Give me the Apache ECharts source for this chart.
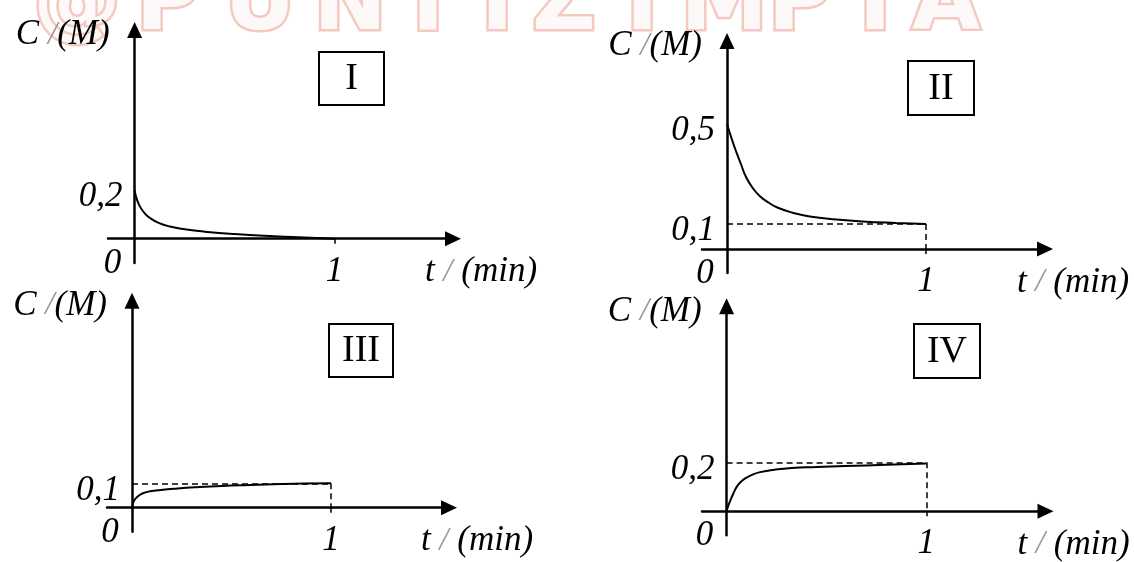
<!DOCTYPE html>
<html>
<head>
<meta charset="utf-8">
<script src="https://cdn.jsdelivr.net/npm/echarts@6/dist/echarts.min.js"></script>
<style>
html, body { margin: 0; padding: 0; background: #fff; }
#chart { width: 1134px; height: 562px; }
</style>
</head>
<body>
<div id="chart"></div>
<script>
var tI = [0, 0.01, 0.027, 0.05, 0.077, 0.12, 0.177, 0.25, 0.35, 0.5, 0.7, 0.85, 1];
var cI = [0.2, 0.165, 0.132, 0.105, 0.085, 0.065, 0.05, 0.039, 0.029, 0.019, 0.01, 0.005, 0];

var tII = [0, 0.02, 0.043, 0.07, 0.095, 0.13, 0.167, 0.21, 0.256, 0.33, 0.416, 0.55, 0.682, 0.85, 1];
var cII = [0.5, 0.45, 0.396, 0.34, 0.289, 0.243, 0.21, 0.185, 0.165, 0.145, 0.13, 0.118, 0.11, 0.104, 0.1];

var tIII = [0, 0.008, 0.019, 0.035, 0.055, 0.09, 0.145, 0.23, 0.325, 0.45, 0.594, 0.75, 0.863, 1];
var cIII = [0, 0.025, 0.038, 0.05, 0.059, 0.067, 0.073, 0.079, 0.084, 0.089, 0.093, 0.097, 0.099, 0.1];

var tIV = [0, 0.008, 0.018, 0.035, 0.053, 0.075, 0.098, 0.13, 0.168, 0.24, 0.327, 0.45, 0.593, 0.8, 1];
var cIV = [0, 0.022, 0.043, 0.075, 0.103, 0.123, 0.137, 0.15, 0.16, 0.17, 0.177, 0.181, 0.185, 0.19, 0.195];

var yTicks = [[0.2], [0.5, 0.1], [0.1], [0.2]];
var xTicks = [0, 1];
var guideLevels = [null, 0.1, 0.1, 0.2];
var romanLabels = ['I', 'II', 'III', 'IV'];
var watermarkLetters = ['@', 'P', 'U', 'N', 'T', 'I', 'Z', 'I', 'M', 'P', 'I', 'A'];

// layout: origin px, px per unit, axis extents
var frames = [
  { ox: 134.6, oy: 238.7, ux: 200, uy: 243, left: 108, right: 453, top: 30, bottom: 263 },
  { ox: 727, oy: 249, ux: 199, uy: 250, left: 702, right: 1045, top: 41, bottom: 273 },
  { ox: 132, oy: 507.7, ux: 199, uy: 244, left: 107, right: 449, top: 300.7, bottom: 531.7 },
  { ox: 726.6, oy: 514, ux: 199.7, uy: 248, left: 702, right: 1045.5, top: 306.3, bottom: 538.3 }
];
var boxes = [
  { x: 318, y: 51, w: 65, h: 53 },
  { x: 907, y: 60, w: 66, h: 54 },
  { x: 328, y: 323, w: 64, h: 53 },
  { x: 913, y: 323, w: 66, h: 54 }
];
var watermarkX = [77, 168, 260, 350, 428, 497, 564, 642, 724, 800, 875, 946];

var curves = [[tI, cI], [tII, cII], [tIII, cIII], [tIV, cIV]];
var FONT = 'Liberation Serif';
var FS = 35;

var nameRich = {
  a: { fontFamily: FONT, fontSize: FS, fontStyle: 'italic', color: '#000' },
  s: { fontFamily: FONT, fontSize: FS - 2, fontStyle: 'italic', color: '#999' }
};

function fmt(v) {
  return String(v).replace('.', ',');
}

var grid = [], xAxis = [], yAxis = [], series = [], graphic = [];

frames.forEach(function (f, i) {
  grid.push({ left: f.left, top: f.top, width: f.right - f.left, height: f.bottom - f.top });

  // labels sit on the grid edge, so pull them back to the zero lines
  var xMargin = f.oy + 33 - FS / 2 - f.bottom;
  var yMargin = f.left - f.ox + 12;

  xAxis.push({
    type: 'value', gridIndex: i,
    min: (f.left - f.ox) / f.ux, max: (f.right - f.ox) / f.ux,
    splitLine: { show: false },
    axisLine: { onZero: true, symbol: ['none', 'triangle'], symbolSize: [15, 16],
      lineStyle: { color: '#000', width: 2.5 } },
    axisTick: { show: true, customValues: [1], length: 5, lineStyle: { color: '#000', width: 1.5 } },
    axisLabel: {
      customValues: xTicks, margin: xMargin,
      fontFamily: FONT, fontSize: FS, fontStyle: 'italic', color: '#000',
      formatter: function (v) { return v === 0 ? '{o|0}' : fmt(v); },
      rich: { o: { fontFamily: FONT, fontSize: FS, fontStyle: 'italic', color: '#000', lineHeight: 19, padding: [0, 44, 0, 0] } }
    },
    name: '{a|t }{s|/}{a| (min)}', nameLocation: 'end', nameGap: 28,
    nameTextStyle: { align: 'center', verticalAlign: 'top', padding: [16, 0, 0, 0], rich: nameRich }
  });

  yAxis.push({
    type: 'value', gridIndex: i,
    min: -(f.bottom - f.oy) / f.uy, max: (f.oy - f.top) / f.uy,
    splitLine: { show: false },
    axisLine: { onZero: true, symbol: ['none', 'triangle'], symbolSize: [15, 16],
      lineStyle: { color: '#000', width: 2.5 } },
    axisTick: { show: false },
    axisLabel: {
      customValues: yTicks[i], margin: yMargin,
      verticalAlign: 'top', lineHeight: 14,
      fontFamily: FONT, fontSize: FS, fontStyle: 'italic', color: '#000',
      formatter: fmt
    },
    name: '{a|C }{s|/}{a|(M)}', nameLocation: 'end', nameGap: -5,
    nameTextStyle: { align: 'right', verticalAlign: 'middle', padding: [0, 25, 0, 0], rich: nameRich }
  });

  var t = curves[i][0], c = curves[i][1];
  var s = {
    type: 'line', xAxisIndex: i, yAxisIndex: i,
    data: t.map(function (v, k) { return [v, c[k]]; }),
    smooth: 0.5, showSymbol: false, symbol: 'none',
    lineStyle: { color: '#000', width: 2 },
    silent: true
  };
  var L = guideLevels[i];
  if (L !== null) {
    s.markLine = {
      silent: true, symbol: ['none', 'none'], animation: false,
      label: { show: false },
      lineStyle: { color: '#000', width: 1.5, type: [6, 4] },
      data: [
        [{ coord: [0, L] }, { coord: [1, L] }],
        [{ coord: [1, L] }, { coord: [1, 0] }]
      ]
    };
  }
  series.push(s);

  var b = boxes[i];
  graphic.push({
    type: 'group', left: b.x, top: b.y,
    children: [
      { type: 'rect', shape: { x: 0, y: 0, width: b.w, height: b.h },
        style: { fill: '#fff', stroke: '#000', lineWidth: 2 } },
      { type: 'text', x: b.w / 2, y: b.h / 2 + 1,
        style: { text: romanLabels[i], font: '38px "Liberation Serif"', fill: '#000',
          align: 'center', verticalAlign: 'middle' } }
    ]
  });
});

// faint watermark across the top edge
watermarkLetters.forEach(function (ch, k) {
  graphic.push({
    type: 'text', x: watermarkX[k], y: 50, z: -10,
    style: { text: ch, font: 'bold 88px "DejaVu Sans"', fill: '#fcf9f8', stroke: '#f5c9c0',
      lineWidth: 5, align: 'center', verticalAlign: 'bottom' }
  });
});

var myChart = echarts.init(document.getElementById('chart'));
myChart.setOption({
  animation: false,
  textStyle: { fontFamily: FONT },
  grid: grid,
  xAxis: xAxis,
  yAxis: yAxis,
  series: series,
  graphic: graphic
});
</script>
</body>
</html>
